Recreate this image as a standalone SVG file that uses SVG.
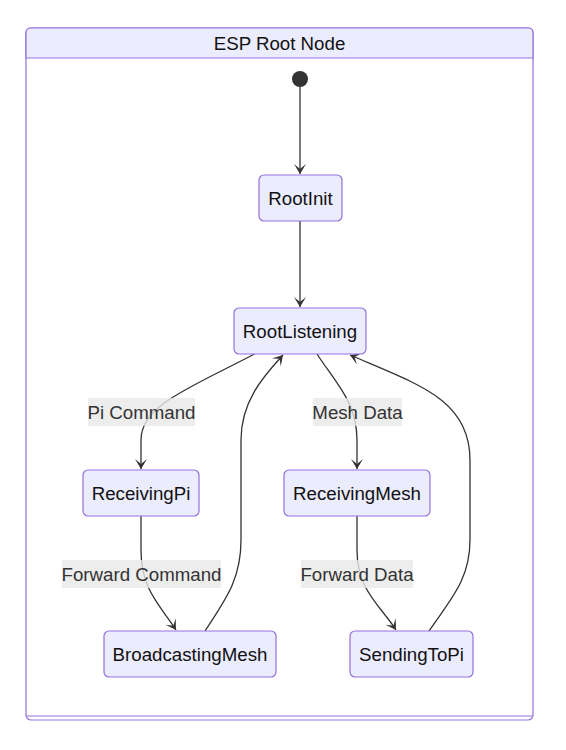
<svg xmlns="http://www.w3.org/2000/svg" width="566" height="750" viewBox="0 0 566 750">
<style>
.node rect{fill:#ECECFF;stroke:#9370DB;stroke-width:1.2}
.node text,.title{font-family:"Liberation Sans",Arial,sans-serif;font-size:18.7px;fill:#111;text-anchor:middle}
.edge{fill:none;stroke:#333;stroke-width:1.3}
.lbl rect{fill:#e8e8e8;opacity:0.8}
.lbl text{font-family:"Liberation Sans",Arial,sans-serif;font-size:18.7px;fill:#333;text-anchor:middle}
</style>
<defs>
<marker id="barb" viewBox="0 0 20 14" refX="19" refY="7" markerWidth="20" markerHeight="14" markerUnits="userSpaceOnUse" orient="auto">
<path d="M19,7 L9,13 L14,7 L9,1 Z" fill="#333"/>
</marker>
</defs>
<rect width="566" height="750" fill="#fff"/>
<g id="cluster">
<rect x="26" y="28" width="507" height="692" rx="5" fill="#fff" stroke="#9370DB" stroke-width="1.2"/>
<path d="M26,58 V33 Q26,28 31,28 H528 Q533,28 533,33 V58 Z" fill="#ECECFF" stroke="#9370DB" stroke-width="1.2"/>
<line x1="26" y1="716" x2="533" y2="716" stroke="#9370DB" stroke-width="1.2"/>
<text class="title" x="279.5" y="50">ESP Root Node</text>
</g>
<g id="start"><circle cx="300" cy="79" r="8" fill="#333"/></g>
<g id="edges">
<path class="edge" d="M300,86 L300,174" marker-end="url(#barb)"/>
<path class="edge" d="M300,221 L300,307" marker-end="url(#barb)"/>
<path class="edge" d="M254.5,354 C190,388 141,405 141,440 L141,469" marker-end="url(#barb)"/>
<path class="edge" d="M317,354 C335,382 357,402 357,440 L357,469" marker-end="url(#barb)"/>
<path class="edge" d="M141,516 L141,550 C141,590 160,605 176,630" marker-end="url(#barb)"/>
<path class="edge" d="M357,516 L357,550 C357,590 380,605 396,630" marker-end="url(#barb)"/>
<path class="edge" d="M205,631 C225,600 241,580 241,540 L241,440 C241,400 265,375 283,355" marker-end="url(#barb)"/>
<path class="edge" d="M429,631 C450,600 470,580 470,540 L470,460 C470,400 420,385 350,355" marker-end="url(#barb)"/>
</g>
<g id="labels">
<g class="lbl"><rect x="88" y="398" width="107" height="28"/><text x="141.5" y="419">Pi Command</text></g>
<g class="lbl"><rect x="313" y="398" width="89" height="28"/><text x="357.5" y="419">Mesh Data</text></g>
<g class="lbl"><rect x="62" y="560" width="159" height="28"/><text x="141.5" y="581">Forward Command</text></g>
<g class="lbl"><rect x="301" y="560" width="112" height="28"/><text x="357" y="581">Forward Data</text></g>
</g>
<g id="RootInit" class="node"><rect x="259" y="175" width="83" height="46" rx="5"/><text x="300.5" y="205">RootInit</text></g>
<g id="RootListening" class="node"><rect x="234" y="308" width="132" height="46" rx="5"/><text x="300" y="338">RootListening</text></g>
<g id="ReceivingPi" class="node"><rect x="83" y="470" width="116" height="46" rx="5"/><text x="141" y="500">ReceivingPi</text></g>
<g id="ReceivingMesh" class="node"><rect x="284" y="470" width="146" height="46" rx="5"/><text x="357" y="500">ReceivingMesh</text></g>
<g id="BroadcastingMesh" class="node"><rect x="104" y="631" width="172" height="46" rx="5"/><text x="190" y="661">BroadcastingMesh</text></g>
<g id="SendingToPi" class="node"><rect x="350" y="631" width="123" height="46" rx="5"/><text x="411.5" y="661">SendingToPi</text></g>
</svg>
